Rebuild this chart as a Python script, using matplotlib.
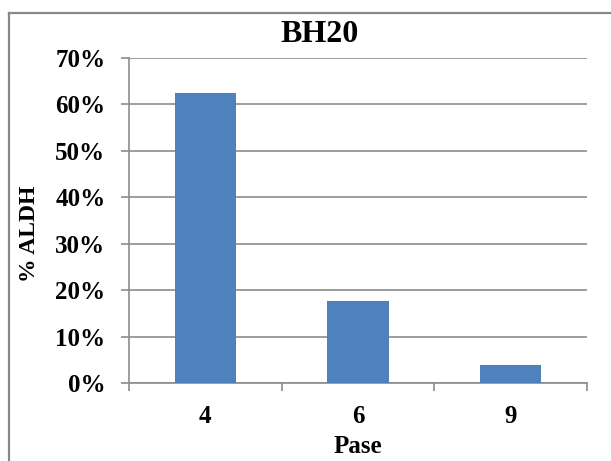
import matplotlib
matplotlib.use("Agg")
import matplotlib.pyplot as plt
from matplotlib.lines import Line2D
from matplotlib.ticker import PercentFormatter

pase = ["4", "6", "9"]
aldh = [62.5, 17.7, 3.9]

plt.rcParams['font.family'] = ['Liberation Serif', 'DejaVu Serif']
plt.rcParams['font.weight'] = 'bold'

fig = plt.figure(figsize=(6.11, 4.61), dpi=100)
ax = fig.add_axes([129 / 611, 78 / 461, 458 / 611, 325 / 461])

x = range(len(pase))
ax.bar(x, aldh, width=0.4, color='#4F81BD', zorder=3)

ax.set_xlim(-0.5, len(pase) - 0.5)
ax.set_ylim(0, 70)
ax.set_yticks(range(0, 71, 10))
ax.yaxis.set_major_formatter(PercentFormatter(decimals=0))
ax.set_xticks(list(x))
ax.set_xticklabels(pase)
ax.set_xticks([i - 0.5 for i in range(len(pase) + 1)], minor=True)

grey = '#8c8c8c'
ax.grid(axis='y', color=grey, linewidth=1.2, zorder=0)
for side in ['top', 'right']:
    ax.spines[side].set_visible(False)
for side in ['left', 'bottom']:
    ax.spines[side].set_color(grey)
    ax.spines[side].set_linewidth(1.2)

ax.tick_params(axis='y', length=6, width=1.2, color=grey, pad=11, labelsize=18)
ax.tick_params(axis='x', which='major', length=0, pad=16, labelsize=18)
ax.tick_params(axis='x', which='minor', length=6, width=1.2, color=grey)

ax.set_xlabel('Pase', fontsize=18, fontweight='bold', labelpad=5)
fig.text(30 / 611, 1 - 234 / 461, '% ALDH', rotation=90, fontsize=17,
         fontweight='bold', ha='center', va='center')
fig.text(320 / 611, 1 - 34 / 461, 'BH20', fontsize=23, fontweight='bold',
         ha='center', va='center')

# chart area outline (left and top edges)
fig.add_artist(Line2D([9 / 611, 9 / 611], [0, 1 - 13 / 461],
                      transform=fig.transFigure, color='#888888', linewidth=1.6))
fig.add_artist(Line2D([9 / 611, 1], [1 - 13 / 461, 1 - 13 / 461],
                      transform=fig.transFigure, color='#888888', linewidth=1.6))

fig.savefig('out.png', dpi=100)
